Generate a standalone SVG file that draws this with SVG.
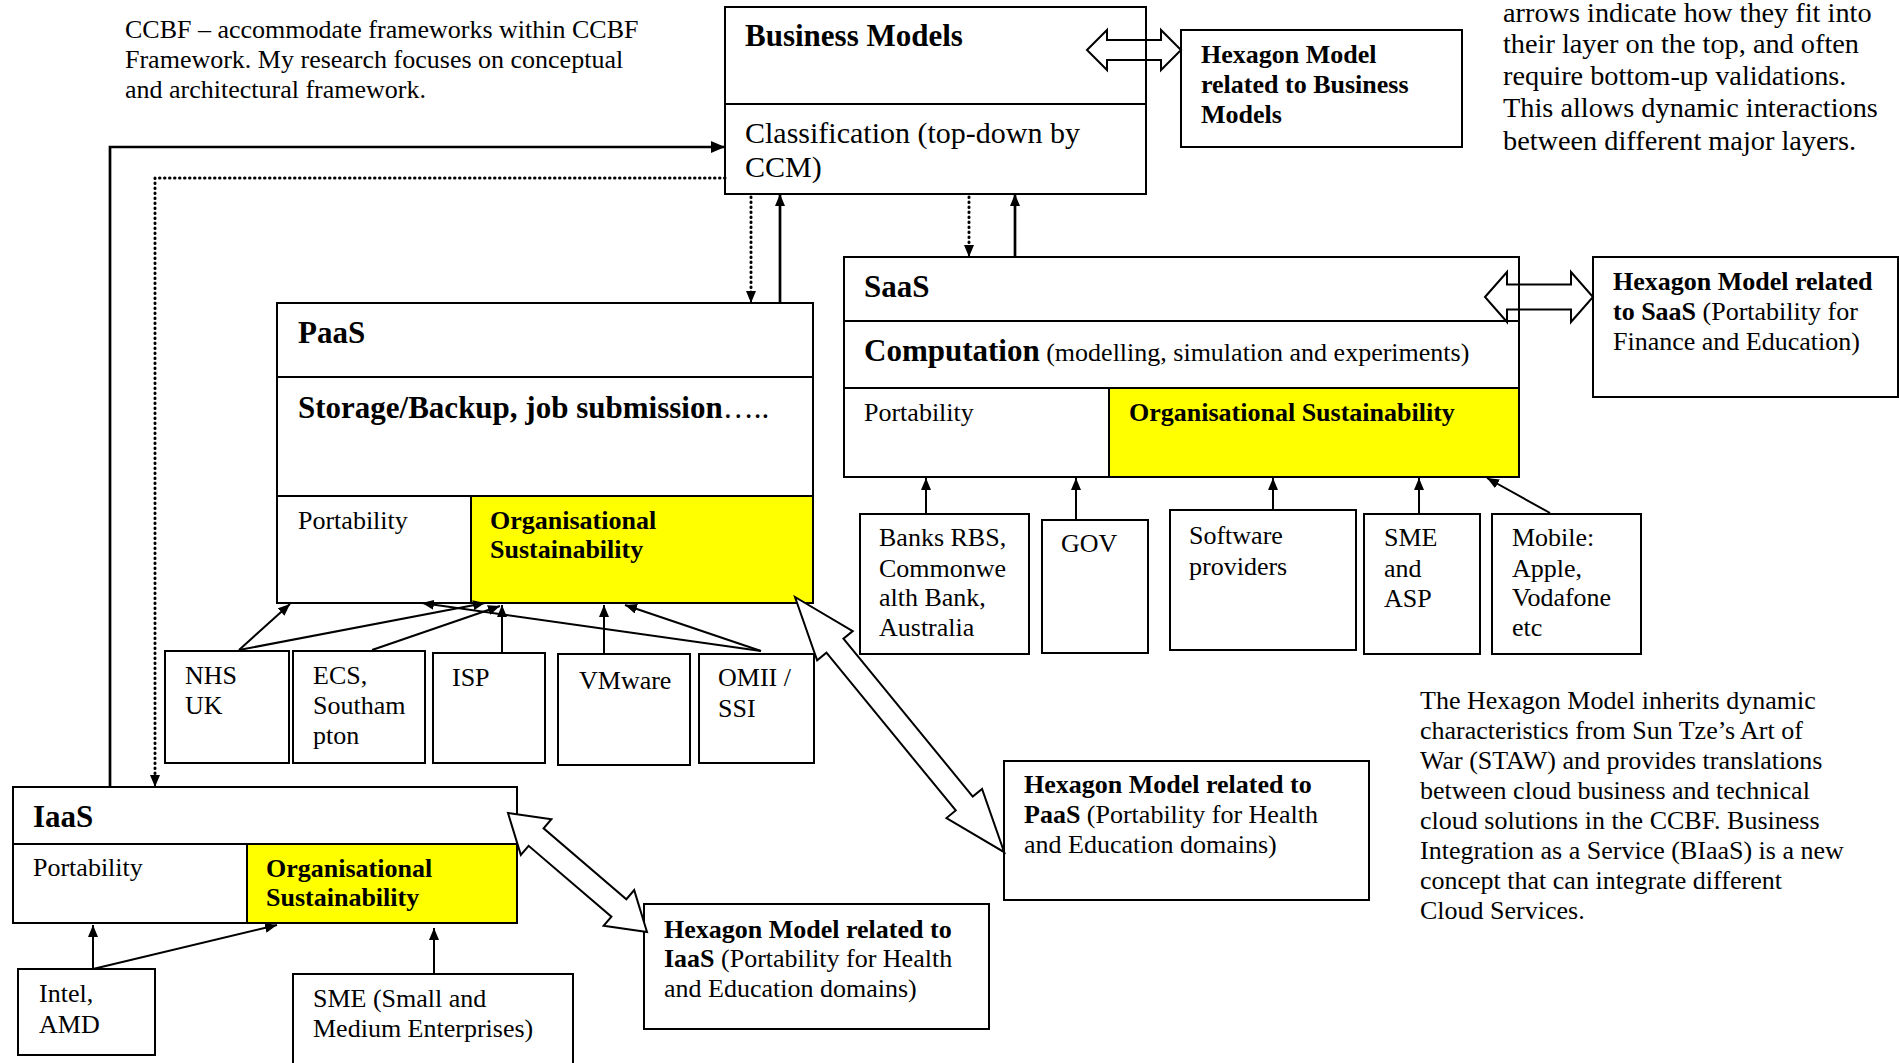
<svg xmlns="http://www.w3.org/2000/svg" width="1899" height="1063" viewBox="0 0 1899 1063">
<defs>
<style>
.box{fill:#fff;stroke:#000;stroke-width:2}
.yel{fill:#ffff00;stroke:#000;stroke-width:2}
.ln{fill:none;stroke:#000;stroke-width:2}
.t{font-family:"Liberation Serif","Times New Roman",serif;font-size:26px;fill:#000}
.b{font-weight:bold}
.h{font-size:31px;font-weight:bold}
.m{font-size:30px}
.n{font-size:28.3px}
.c{fill:none;stroke:#000;stroke-width:2}
.k{stroke-width:2.7}
.d{stroke-width:3;stroke-dasharray:0.5 4.5;stroke-linecap:round}
.ha{fill:#fff;stroke:#000;stroke-width:2;stroke-linejoin:miter}
.hn{fill:none;stroke:#000;stroke-width:2}
</style>
<marker id="ah" viewBox="0 0 12 10" refX="12" refY="5" markerWidth="12" markerHeight="10" orient="auto" markerUnits="userSpaceOnUse"><path d="M0,0 L12,5 L0,10 z" fill="#000"/></marker>
<marker id="ahb" viewBox="0 0 14 12" refX="14" refY="6" markerWidth="14" markerHeight="12" orient="auto" markerUnits="userSpaceOnUse"><path d="M0,0 L14,6 L0,12 z" fill="#000"/></marker>
</defs>

<g id="note-ccbf">
<text class="t" x="125" y="38">CCBF – accommodate frameworks within CCBF</text>
<text class="t" x="125" y="68">Framework. My research focuses on conceptual</text>
<text class="t" x="125" y="98">and architectural framework.</text>
</g>

<g id="note-arrows">
<text class="t n" x="1503" y="22">arrows indicate how they fit into</text>
<text class="t n" x="1503" y="53">their layer on the top, and often</text>
<text class="t n" x="1503" y="85">require bottom-up validations.</text>
<text class="t n" x="1503" y="117">This allows dynamic interactions</text>
<text class="t n" x="1503" y="150">between different major layers.</text>
</g>

<g id="note-hexagon">
<text class="t" x="1420" y="709">The Hexagon Model inherits dynamic</text>
<text class="t" x="1420" y="739">characteristics from Sun Tze’s Art of</text>
<text class="t" x="1420" y="769">War (STAW) and provides translations</text>
<text class="t" x="1420" y="799">between cloud business and technical</text>
<text class="t" x="1420" y="829">cloud solutions in the CCBF. Business</text>
<text class="t" x="1420" y="859">Integration as a Service (BIaaS) is a new</text>
<text class="t" x="1420" y="889">concept that can integrate different</text>
<text class="t" x="1420" y="919">Cloud Services.</text>
</g>

<g id="business-models">
<rect class="box" x="725" y="7" width="421" height="187"/>
<line class="ln" x1="725" y1="104" x2="1146" y2="104"/>
<text class="t h" x="745" y="46">Business Models</text>
<text class="t m" x="745" y="143">Classification (top-down by</text>
<text class="t m" x="745" y="177">CCM)</text>
</g>

<g id="hex-bm">
<rect class="box" x="1181" y="30" width="281" height="117"/>
<text class="t b" x="1201" y="63">Hexagon Model</text>
<text class="t b" x="1201" y="93">related to Business</text>
<text class="t b" x="1201" y="123">Models</text>
</g>

<g id="saas">
<rect class="box" x="844" y="257" width="675" height="220"/>
<rect class="yel" x="1109" y="388" width="410" height="89"/>
<line class="ln" x1="844" y1="321" x2="1519" y2="321"/>
<line class="ln" x1="844" y1="388" x2="1519" y2="388"/>
<text class="t h" x="864" y="297">SaaS</text>
<text class="t" x="864" y="361"><tspan class="h">Computation</tspan> (modelling, simulation and experiments)</text>
<text class="t" x="864" y="421">Portability</text>
<text class="t b" x="1129" y="421">Organisational Sustainability</text>
</g>

<g id="hex-saas">
<rect class="box" x="1593" y="257" width="305" height="140"/>
<text class="t b" x="1613" y="290">Hexagon Model related</text>
<text class="t" x="1613" y="320"><tspan class="b">to SaaS</tspan> (Portability for</text>
<text class="t" x="1613" y="350">Finance and Education)</text>
</g>

<g id="paas">
<rect class="box" x="277" y="303" width="536" height="300"/>
<rect class="yel" x="471" y="496" width="342" height="107"/>
<line class="ln" x1="277" y1="377" x2="813" y2="377"/>
<line class="ln" x1="277" y1="496" x2="813" y2="496"/>
<text class="t h" x="298" y="343">PaaS</text>
<text class="t" style="font-size:31px" x="298" y="418"><tspan class="b">Storage/Backup, job submission</tspan>…..</text>
<text class="t" x="298" y="529">Portability</text>
<text class="t b" x="490" y="529">Organisational</text>
<text class="t b" x="490" y="558">Sustainability</text>
</g>

<g id="iaas">
<rect class="box" x="13" y="787" width="504" height="136"/>
<rect class="yel" x="247" y="844" width="270" height="79"/>
<line class="ln" x1="13" y1="844" x2="517" y2="844"/>
<text class="t h" x="33" y="827">IaaS</text>
<text class="t" x="33" y="876">Portability</text>
<text class="t b" x="266" y="877">Organisational</text>
<text class="t b" x="266" y="906">Sustainability</text>
</g>

<g id="hex-paas">
<rect class="box" x="1004" y="761" width="365" height="139"/>
<text class="t b" x="1024" y="793">Hexagon Model related to</text>
<text class="t" x="1024" y="823"><tspan class="b">PaaS</tspan> (Portability for Health</text>
<text class="t" x="1024" y="853">and Education domains)</text>
</g>

<g id="hex-iaas">
<rect class="box" x="644" y="904" width="345" height="125"/>
<text class="t b" x="664" y="938">Hexagon Model related to</text>
<text class="t" x="664" y="967"><tspan class="b">IaaS</tspan> (Portability for Health</text>
<text class="t" x="664" y="997">and Education domains)</text>
</g>

<g id="nhs"><rect class="box" x="165" y="651" width="124" height="112"/>
<text class="t" x="185" y="684">NHS</text><text class="t" x="185" y="714">UK</text></g>
<g id="ecs"><rect class="box" x="293" y="651" width="132" height="112"/>
<text class="t" x="313" y="684">ECS,</text><text class="t" x="313" y="714">Southam</text><text class="t" x="313" y="744">pton</text></g>
<g id="isp"><rect class="box" x="433" y="653" width="112" height="110"/>
<text class="t" x="452" y="686">ISP</text></g>
<g id="vmware"><rect class="box" x="558" y="654" width="132" height="111"/>
<text class="t" x="579" y="689">VMware</text></g>
<g id="omii"><rect class="box" x="699" y="654" width="115" height="109"/>
<text class="t" x="718" y="686">OMII /</text><text class="t" x="718" y="717">SSI</text></g>

<g id="banks"><rect class="box" x="860" y="514" width="169" height="140"/>
<text class="t" x="879" y="546">Banks RBS,</text><text class="t" x="879" y="577">Commonwe</text><text class="t" x="879" y="606">alth Bank,</text><text class="t" x="879" y="636">Australia</text></g>
<g id="gov"><rect class="box" x="1042" y="520" width="106" height="133"/>
<text class="t" x="1061" y="552">GOV</text></g>
<g id="software"><rect class="box" x="1170" y="510" width="186" height="140"/>
<text class="t" x="1189" y="544">Software</text><text class="t" x="1189" y="575">providers</text></g>
<g id="sme-asp"><rect class="box" x="1364" y="514" width="116" height="140"/>
<text class="t" x="1384" y="546">SME</text><text class="t" x="1384" y="577">and</text><text class="t" x="1384" y="607">ASP</text></g>
<g id="mobile"><rect class="box" x="1492" y="514" width="149" height="140"/>
<text class="t" x="1512" y="546">Mobile:</text><text class="t" x="1512" y="577">Apple,</text><text class="t" x="1512" y="606">Vodafone</text><text class="t" x="1512" y="636">etc</text></g>

<g id="intel"><rect class="box" x="18" y="969" width="137" height="86"/>
<text class="t" x="39" y="1002">Intel,</text><text class="t" x="39" y="1033">AMD</text></g>
<g id="sme"><rect class="box" x="293" y="974" width="280" height="100"/>
<text class="t" x="313" y="1007">SME (Small and</text><text class="t" x="313" y="1037">Medium Enterprises)</text></g>

<g id="connectors">
<path class="c k" d="M110,787 V147 H725" marker-end="url(#ahb)"/>
<path class="c d" d="M725,178 H155 V780"/>
<path class="c" d="M155,778 V787" marker-end="url(#ah)"/>
<path class="c d" d="M751,197 V294"/>
<path class="c" d="M751,292 V303" marker-end="url(#ah)"/>
<path class="c k" d="M780,303 V194" marker-end="url(#ah)"/>
<path class="c d" d="M969,197 V248"/>
<path class="c" d="M969,246 V257" marker-end="url(#ah)"/>
<path class="c k" d="M1015,257 V194" marker-end="url(#ah)"/>

<path class="c" d="M239,650 L290,604" marker-end="url(#ah)"/>
<path class="c" d="M239,650 L485,603" marker-end="url(#ah)"/>
<path class="c" d="M372,650 L500,606" marker-end="url(#ah)"/>
<path class="c" d="M502,653 V605" marker-end="url(#ah)"/>
<path class="c" d="M604,654 V605" marker-end="url(#ah)"/>
<path class="c" d="M761,651 L625,605" marker-end="url(#ah)"/>
<path class="c" d="M761,651 L422,603" marker-end="url(#ah)"/>

<path class="c" d="M926,513 V478" marker-end="url(#ah)"/>
<path class="c" d="M1076,520 V478" marker-end="url(#ah)"/>
<path class="c" d="M1273,510 V478" marker-end="url(#ah)"/>
<path class="c" d="M1419,514 V478" marker-end="url(#ah)"/>
<path class="c" d="M1550,513 L1487,478" marker-end="url(#ah)"/>

<path class="c" d="M93,969 V925" marker-end="url(#ah)"/>
<path class="c" d="M93,969 L277,925" marker-end="url(#ah)"/>
<path class="c" d="M434,974 V928" marker-end="url(#ah)"/>

<polygon class="hn" points="1087,50 1107,30 1107,40 1161,40 1161,30 1181,50 1161,70 1161,60 1107,60 1107,70"/>
<polygon class="hn" points="1485,297 1507,272 1507,284.5 1571,284.5 1571,272 1593,297 1571,322 1571,309.5 1507,309.5 1507,322"/>
<polygon class="ha" transform="translate(795,597) rotate(50.66)" points="0,0 63,-23 63,-11 267,-11 267,-23 330,0 267,23 267,11 63,11 63,23"/>
<polygon class="ha" transform="translate(508,813) rotate(40.57)" points="0,0 37,-23.5 37,-11.5 146,-11.5 146,-23.5 183,0 146,23.5 146,11.5 37,11.5 37,23.5"/>
</g>
</svg>
